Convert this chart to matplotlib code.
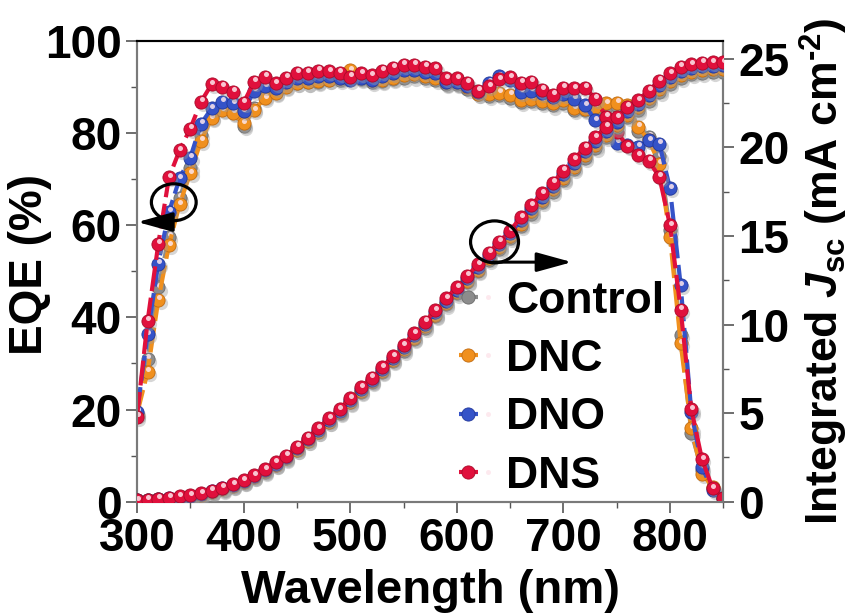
import numpy as np
import matplotlib
matplotlib.use("Agg")
import matplotlib.pyplot as plt
from matplotlib.lines import Line2D
from matplotlib.legend_handler import HandlerTuple
from matplotlib.patches import Ellipse
from matplotlib.transforms import offset_copy

plt.rcParams["font.family"] = "Liberation Sans"
plt.rcParams["font.weight"] = "bold"
plt.rcParams["mathtext.fontset"] = "custom"
plt.rcParams["mathtext.rm"] = "Liberation Sans:bold"
plt.rcParams["mathtext.bf"] = "Liberation Sans:bold"
plt.rcParams["mathtext.it"] = "Liberation Sans:italic:bold"

wavelength = np.arange(300, 860, 10)
labels = ["Control", "DNC", "DNO", "DNS"]
colors = ["#8c8c8c", "#f0901e", "#3553c8", "#e0103c"]
edge_colors = ["#6a6a6a", "#c06a10", "#22389a", "#a80a2a"]

# EQE (%) per device
eqe_control = [19.0, 31.0, 46.5, 57.5, 66.0, 72.5, 79.5, 83.5, 85.2, 84.5,
               81.5, 85.5, 88.0, 89.0, 90.2, 90.8, 91.0, 91.2, 91.5, 91.5,
               92.5, 91.8, 91.2, 91.3, 91.8, 92.0, 92.3, 92.0, 91.6, 90.6,
               90.6, 89.6, 88.4, 88.0, 88.3, 87.6, 86.8, 87.0, 86.6, 86.0,
               86.6, 85.0, 85.0, 85.2, 85.6, 85.8, 85.0, 80.5, 79.2, 75.0,
               59.0, 36.2, 15.0, 6.8, 3.0, 0.8]
eqe_dnc = [19.0, 28.2, 43.8, 55.7, 64.6, 71.3, 78.3, 83.2, 85.0, 84.4,
           82.1, 85.0, 87.6, 88.8, 90.0, 90.8, 91.0, 91.4, 91.6, 92.0,
           93.7, 92.3, 91.6, 91.6, 92.0, 92.6, 92.8, 92.4, 91.9, 91.0,
           91.0, 90.0, 88.6, 88.5, 88.8, 88.3, 87.2, 87.5, 87.0, 86.5,
           87.3, 85.4, 85.3, 85.7, 86.5, 86.6, 86.0, 81.4, 78.5, 73.4,
           57.4, 34.4, 15.9, 6.1, 3.2, 0.8]
eqe_dno = [19.5, 36.4, 51.7, 62.9, 70.2, 74.7, 82.0, 85.4, 86.8, 86.5,
           84.8, 89.2, 90.2, 89.8, 91.0, 92.0, 92.0, 92.4, 92.4, 92.0,
           91.6, 92.0, 91.6, 92.4, 93.0, 93.6, 93.6, 93.2, 93.0, 91.0,
           91.0, 90.2, 89.0, 90.9, 92.4, 91.5, 89.0, 89.2, 88.8, 87.8,
           88.5, 87.5, 86.1, 82.8, 80.0, 77.9, 77.5, 77.0, 78.5, 77.7,
           68.0, 47.0, 19.5, 7.5, 2.5, 0.8]
eqe_dns = [18.4, 39.3, 56.0, 70.4, 76.3, 81.0, 86.8, 90.6, 90.1, 89.0,
           86.6, 91.2, 92.2, 90.8, 92.0, 93.1, 93.1, 93.5, 93.4, 93.1,
           92.2, 93.0, 92.6, 93.5, 94.2, 94.8, 94.8, 94.4, 94.1, 91.9,
           91.9, 90.9, 89.2, 90.2, 91.7, 92.1, 90.9, 91.2, 89.4, 88.3,
           89.9, 89.7, 89.9, 87.5, 83.6, 80.3, 77.2, 75.2, 74.0, 70.5,
           60.0, 41.7, 20.1, 9.2, 2.9, 0.8]

# integrated Jsc (mA cm-2)
jsc_control = [0.07, 0.10, 0.13, 0.18, 0.25, 0.31, 0.40, 0.53, 0.69, 0.87,
               1.09, 1.37, 1.70, 2.06, 2.44, 2.92, 3.41, 3.93, 4.48, 5.00,
               5.60, 6.20, 6.74, 7.33, 7.92, 8.53, 9.18, 9.83, 10.47, 11.13,
               11.75, 12.38, 13.01, 13.64, 14.26, 14.87, 15.58, 16.26, 16.90, 17.50,
               18.14, 18.77, 19.40, 19.98, 20.57, 21.12, 21.69, 22.08, 22.60, 23.13,
               23.57, 23.93, 24.12, 24.21, 24.25, 24.26]
jsc_dnc = [0.07, 0.10, 0.13, 0.18, 0.25, 0.31, 0.40, 0.54, 0.70, 0.88,
           1.10, 1.38, 1.71, 2.08, 2.46, 2.94, 3.44, 3.96, 4.52, 5.04,
           5.64, 6.25, 6.79, 7.39, 7.98, 8.60, 9.25, 9.90, 10.55, 11.21,
           11.83, 12.47, 13.10, 13.74, 14.36, 14.98, 15.70, 16.38, 17.03, 17.63,
           18.28, 18.91, 19.55, 20.13, 20.72, 21.27, 21.85, 22.25, 22.76, 23.28,
           23.72, 24.08, 24.27, 24.36, 24.40, 24.41]
jsc_dno = [0.08, 0.11, 0.15, 0.21, 0.28, 0.34, 0.44, 0.58, 0.75, 0.93,
           1.16, 1.44, 1.78, 2.15, 2.53, 3.02, 3.52, 4.05, 4.61, 5.13,
           5.73, 6.35, 6.89, 7.50, 8.10, 8.72, 9.38, 10.03, 10.68, 11.35,
           11.97, 12.61, 13.25, 13.90, 14.52, 15.14, 15.88, 16.57, 17.22, 17.82,
           18.49, 19.12, 19.77, 20.34, 20.92, 21.45, 22.03, 22.42, 22.95, 23.51,
           23.95, 24.32, 24.50, 24.58, 24.61, 24.62]
jsc_dns = [0.08, 0.12, 0.16, 0.23, 0.30, 0.36, 0.47, 0.62, 0.79, 0.98,
           1.22, 1.50, 1.84, 2.22, 2.60, 3.10, 3.60, 4.14, 4.70, 5.23,
           5.83, 6.45, 7.00, 7.60, 8.20, 8.83, 9.50, 10.15, 10.80, 11.48,
           12.10, 12.75, 13.40, 14.05, 14.67, 15.29, 16.05, 16.74, 17.40, 18.00,
           18.68, 19.32, 19.98, 20.56, 21.16, 21.69, 22.29, 22.67, 23.19, 23.76,
           24.18, 24.55, 24.70, 24.77, 24.80, 24.81]

eqe_all = [eqe_control, eqe_dnc, eqe_dno, eqe_dns]
jsc_all = [jsc_control, jsc_dnc, jsc_dno, jsc_dns]

MS = 9.5
LW = 3.0
DASH = (0, (6, 1.6))


def draw_balls(ax, x, y, color, edge, z):
    """dashed curve with shaded ball markers (shadow + highlight)"""
    fig = ax.figure
    shadow_tr = offset_copy(ax.transData, fig=fig, x=1.6, y=-2.2, units="points")
    glint_tr = offset_copy(ax.transData, fig=fig, x=0.6, y=1.8, units="points")
    ax.plot(x, y, "o", ms=MS, color="#9a9a9a", alpha=0.4, mec="none",
            transform=shadow_tr, zorder=z)
    ax.plot(x, y, linestyle=DASH, lw=LW, color=color, marker="o", ms=MS,
            mfc=color, mec=edge, mew=0.6, zorder=z + 0.1)
    ax.plot(x, y, "o", ms=3.6, color="#fde6ec", alpha=0.85, mec="none",
            transform=glint_tr, zorder=z + 0.2)


fig = plt.figure(figsize=(8.51, 6.16), dpi=100)
ax = fig.add_axes([137 / 851, 1 - 501.7 / 616, 586.3 / 851, 460.7 / 616])
ax2 = ax.twinx()

for i in range(4):
    draw_balls(ax, wavelength, eqe_all[i], colors[i], edge_colors[i], 2 + i)
    draw_balls(ax2, wavelength, jsc_all[i], colors[i], edge_colors[i], 2 + i)

ax.set_xlim(300, 850)
ax.set_ylim(0, 100)
ax2.set_ylim(0, 26)

ax.set_xticks([300, 400, 500, 600, 700, 800])
ax.set_xticks(np.arange(350, 851, 100), minor=True)
ax.set_yticks([0, 20, 40, 60, 80, 100])
ax.set_yticks([10, 30, 50, 70, 90], minor=True)
ax2.set_yticks([0, 5, 10, 15, 20, 25])
ax2.set_yticks([2.5, 7.5, 12.5, 17.5, 22.5], minor=True)

for a in (ax, ax2):
    a.tick_params(which="major", direction="out", length=8, width=1.2,
                  color="#555555", labelsize=33, pad=3)
    a.tick_params(which="minor", direction="out", length=4, width=1.0,
                  color="#555555")
    for side in ("left", "right", "bottom"):
        a.spines[side].set_color("#7a7a7a")
        a.spines[side].set_linewidth(1.5)
    a.spines["top"].set_color("black")
    a.spines["top"].set_linewidth(1.5)
ax.tick_params(axis="x", top=False)

ax.set_xlabel("Wavelength (nm)", fontsize=34, fontweight="bold", labelpad=6)
ax.set_ylabel("EQE (%)", fontsize=33, fontweight="bold")
ax.yaxis.set_label_coords(-0.1445, 0.514)
ax2.set_ylabel("Integrated $\\mathit{J}_{\\mathrm{sc}}$ (mA cm$^{\\mathrm{\u20102}}$)",
               fontsize=32, fontweight="bold", labelpad=6)

# circles and arrows pointing to the matching axis
ring1 = Ellipse((334.5, 65.0), width=42, height=8.0, fill=False, lw=2.3,
                ec="black", transform=ax.transData, zorder=20)
ring2 = Ellipse((635.4, 56.4), width=45, height=9.1, fill=False, lw=2.3,
                ec="black", transform=ax.transData, zorder=20)
ax2.add_patch(ring1)
ax2.add_patch(ring2)
arrow_style = dict(arrowstyle="-|>,head_length=0.8,head_width=0.22", lw=2.2,
                   color="black", mutation_scale=27, shrinkA=0, shrinkB=0)
ax2.annotate("", xy=(300.4, 60.7), xytext=(328, 60.7), xycoords=ax.transData,
             textcoords=ax.transData, arrowprops=arrow_style, zorder=21,
             annotation_clip=False)
ax2.annotate("", xy=(708, 52.0), xytext=(634, 52.0), xycoords=ax.transData,
             textcoords=ax.transData, arrowprops=arrow_style, zorder=21)

# legend entries: dashed line + ball with glint
handles = []
for c, ec in zip(colors, edge_colors):
    ball = Line2D([], [], linestyle=(0, (2.16, 0.96, 2.88, 0.96)), lw=LW,
                  color=c, marker="o", ms=MS, mfc=c, mec=ec, mew=0.6)
    glint = Line2D([], [], linestyle="none", marker="o", ms=3.6, color="#fde6ec",
                   mec="none", alpha=0.85)
    handles.append((ball, glint))
leg = ax2.legend(handles, labels, handler_map={tuple: HandlerTuple(ndivide=None)},
                 loc="upper left", bbox_to_anchor=(0.549, 0.48), frameon=False,
                 fontsize=32, handlelength=0.86, handletextpad=0.2,
                 labelspacing=0.39, borderpad=0.0, borderaxespad=0.0)
leg.set_zorder(30)

fig.savefig("out.png", dpi=100)
plt.close(fig)
